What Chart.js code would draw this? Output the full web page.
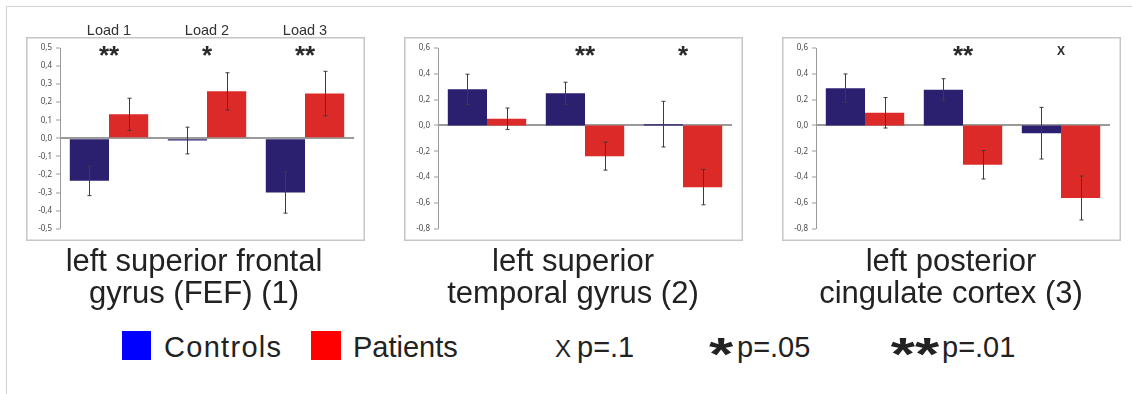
<!DOCTYPE html>
<html>
<head>
<meta charset="utf-8">
<script src="https://cdn.jsdelivr.net/npm/chart.js@4/dist/chart.umd.min.js"></script>
<style>
  html, body { margin: 0; padding: 0; background: #fff; width: 1132px; height: 394px; overflow: hidden;
               font-family: "Liberation Sans", Arial, sans-serif; color: #222; }
  #frame { position: absolute; left: 6px; top: 6px; right: 0; bottom: 0;
           border-top: 1px solid #d2d2d2; border-left: 1px solid #d2d2d2; }
  canvas.panel { position: absolute; top: 15px; }
  .title { position: absolute; top: 245px; width: 400px; text-align: center;
           font-size: 31px; line-height: 32px; color: #222; }
  .lg { position: absolute; white-space: nowrap; color: #222; font-size: 29px; line-height: 29px; top: 332.5px; }
  .sw { position: absolute; top: 331px; width: 29px; height: 29px; }
  .star { position: absolute; width: 60px; text-align: center; font-weight: bold; font-size: 46px;
          line-height: 46px; top: 331px; transform: scaleX(1.35); color: #222; }
</style>
</head>
<body>
<div id="frame"></div>

<canvas id="fef" class="panel" width="342" height="230" style="left:24px"></canvas>
<canvas id="stg" class="panel" width="342" height="230" style="left:402px"></canvas>
<canvas id="pcc" class="panel" width="342" height="230" style="left:780px"></canvas>

<div class="title" style="left:-6px">left superior frontal<br>gyrus (FEF) (1)</div>
<div class="title" style="left:373px">left superior<br>temporal gyrus (2)</div>
<div class="title" style="left:751px">left posterior<br>cingulate cortex (3)</div>

<div class="sw" style="left:122px;background:#0000ff"></div>
<div class="lg" style="left:164px;letter-spacing:1.3px">Controls</div>
<div class="sw" style="left:311px;width:30px;background:#ff0000"></div>
<div class="lg" style="left:353px">Patients</div>
<div class="lg" style="left:555px;font-size:24px;line-height:24px;top:336.7px">X</div>
<div class="lg" style="left:577px">p=.1</div>
<div class="star" style="left:691px">*</div>
<div class="lg" style="left:737px">p=.05</div>
<div class="star" style="left:885px">**</div>
<div class="lg" style="left:942px">p=.01</div>

<script>
// Working-memory loads shown along each panel
const loads = ['Load 1', 'Load 2', 'Load 3'];

// Left superior frontal gyrus (FEF)
const fefControls    = [-0.235, -0.012, -0.300];
const fefControlsErr = [0.082, 0.074, 0.114];
const fefPatients    = [0.133, 0.260, 0.248];
const fefPatientsErr = [0.089, 0.103, 0.123];
const fefMarks       = ['**', '*', '**'];
const fefAxis        = [-0.5, 0.5, 0.1];   // min, max, step

// Left superior temporal gyrus
const stgControls    = [0.280, 0.250, 0.010];
const stgControlsErr = [0.117, 0.085, 0.177];
const stgPatients    = [0.052, -0.238, -0.478];
const stgPatientsErr = [0.083, 0.108, 0.137];
const stgMarks       = ['', '**', '*'];
const stgAxis        = [-0.8, 0.6, 0.2];

// Left posterior cingulate cortex
const pccControls    = [0.289, 0.277, -0.060];
const pccControlsErr = [0.110, 0.085, 0.200];
const pccPatients    = [0.098, -0.305, -0.562];
const pccPatientsErr = [0.118, 0.110, 0.170];
const pccMarks       = ['', '**', 'X'];
const pccAxis        = [-0.8, 0.6, 0.2];

const CONTROL_COLOR = '#2b1f70';
const PATIENT_COLOR = '#db2a27';
const AXIS_GRAY = '#9a9a9a';

// Light grey frame around each panel
const panelFrame = {
  id: 'panelFrame',
  beforeDraw(chart) {
    const ctx = chart.ctx;
    ctx.save();
    ctx.strokeStyle = '#c6c6c6';
    ctx.lineWidth = 1.5;
    ctx.strokeRect(2.75, 22.75, 337.5, 202.5);
    ctx.restore();
  }
};

// Standard-error whiskers on every bar
const errorBars = {
  id: 'errorBars',
  afterDatasetsDraw(chart) {
    const ctx = chart.ctx;
    const y = chart.scales.y;
    ctx.save();
    ctx.strokeStyle = '#3c3c3c';
    ctx.lineWidth = 1;
    chart.data.datasets.forEach((ds, d) => {
      const meta = chart.getDatasetMeta(d);
      meta.data.forEach((bar, i) => {
        const v = ds.data[i], e = ds.errors[i];
        const x = Math.round(bar.x) + 0.5;
        const top = y.getPixelForValue(v + e);
        const bot = y.getPixelForValue(v - e);
        ctx.beginPath();
        ctx.moveTo(x, top); ctx.lineTo(x, bot);
        ctx.moveTo(x - 2, top); ctx.lineTo(x + 2, top);
        ctx.moveTo(x - 2, bot); ctx.lineTo(x + 2, bot);
        ctx.stroke();
      });
    });
    ctx.restore();
  }
};

// Significance markers above each load, and optional load captions
const annotations = {
  id: 'annotations',
  afterDraw(chart, args, opts) {
    const ctx = chart.ctx;
    const x = chart.scales.x;
    ctx.save();
    ctx.textAlign = 'center';
    ctx.textBaseline = 'alphabetic';
    ctx.fillStyle = '#2a2a2a';
    opts.marks.forEach((m, i) => {
      if (!m) return;
      const px = x.getPixelForValue(i);
      if (m === 'X') {
        ctx.font = 'bold 12px "Liberation Sans", Arial, sans-serif';
        ctx.fillText(m, px, 40);
      } else {
        ctx.font = 'bold 26px "Liberation Sans", Arial, sans-serif';
        ctx.fillText(m, px, 49);
      }
    });
    if (opts.showLoads) {
      ctx.font = '14.5px "Liberation Sans", Arial, sans-serif';
      ctx.fillStyle = '#333';
      chart.data.labels.forEach((lab, i) => ctx.fillText(lab, x.getPixelForValue(i), 19.5));
    }
    ctx.restore();
  }
};

function makePanel(id, ctrl, ctrlErr, pat, patErr, axis, marks, showLoads) {
  return new Chart(document.getElementById(id), {
    type: 'bar',
    data: {
      labels: loads,
      datasets: [
        { label: 'Controls', data: ctrl, errors: ctrlErr, backgroundColor: CONTROL_COLOR,
          borderWidth: 0, barPercentage: 1.0, categoryPercentage: 0.8 },
        { label: 'Patients', data: pat, errors: patErr, backgroundColor: PATIENT_COLOR,
          borderWidth: 0, barPercentage: 1.0, categoryPercentage: 0.8 }
      ]
    },
    options: {
      responsive: false,
      animation: false,
      devicePixelRatio: 1,
      layout: { padding: { left: 0, right: 12, top: 33, bottom: 16.3 } },
      plugins: {
        legend: { display: false },
        tooltip: { enabled: false },
        annotations: { marks: marks, showLoads: showLoads }
      },
      scales: {
        x: { display: false },
        y: {
          min: axis[0], max: axis[1],
          afterFit(scale) { scale.width = 36; },
          ticks: {
            stepSize: axis[2],
            autoSkip: false,
            padding: 4,
            color: '#4a4a4a',
            font: { family: '"Noto Sans", "Open Sans", sans-serif', size: 8 },
            callback: v => (Math.abs(v) < 1e-9 ? 0 : v).toFixed(1).replace('.', ',')
          },
          border: { display: true, color: AXIS_GRAY, width: 1 },
          grid: {
            drawOnChartArea: true,
            drawTicks: true,
            tickLength: 4,
            tickColor: AXIS_GRAY,
            tickWidth: 1,
            color: c => (c.tick && Math.abs(c.tick.value) < 1e-9) ? AXIS_GRAY : 'rgba(0,0,0,0)',
            lineWidth: c => (c.tick && Math.abs(c.tick.value) < 1e-9) ? 2 : 0
          }
        }
      }
    },
    plugins: [panelFrame, errorBars, annotations]
  });
}

makePanel('fef', fefControls, fefControlsErr, fefPatients, fefPatientsErr, fefAxis, fefMarks, true);
makePanel('stg', stgControls, stgControlsErr, stgPatients, stgPatientsErr, stgAxis, stgMarks, false);
makePanel('pcc', pccControls, pccControlsErr, pccPatients, pccPatientsErr, pccAxis, pccMarks, false);
</script>
</body>
</html>
